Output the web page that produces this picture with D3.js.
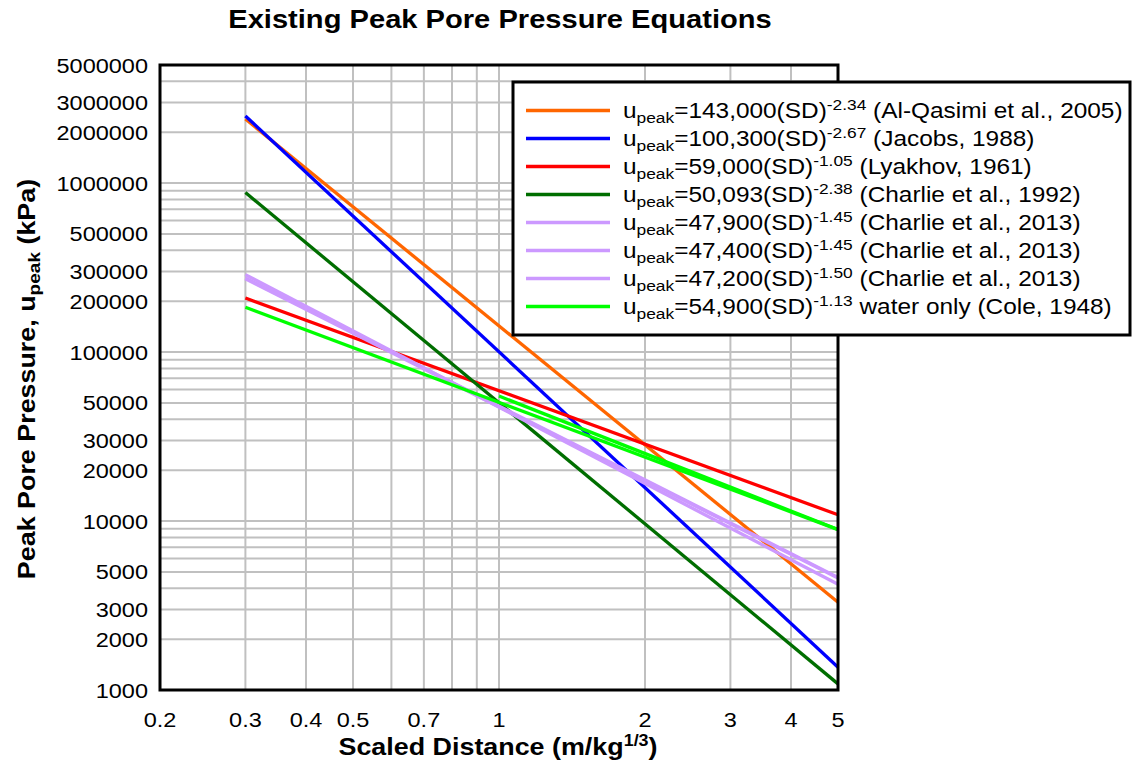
<!doctype html>
<html lang="en">
<head>
<meta charset="utf-8">
<title>Existing Peak Pore Pressure Equations</title>
<script src="https://cdn.jsdelivr.net/npm/d3@7"></script>
<style>
  body { margin: 0; background: #fff; }
  text { font-family: "Liberation Sans", Arial, sans-serif; fill: #000; }
</style>
</head>
<body>
<svg id="chart" width="1136" height="767"></svg>
<script>
// series, in legend order; the last one is the unlabelled lime trace
var coefs = ["143,000", "100,300", "59,000", "50,093", "47,900", "47,400", "47,200", "54,900", null];
var expos = ["-2.34", "-2.67", "-1.05", "-2.38", "-1.45", "-1.45", "-1.50", "-1.13", null];
var sources = [" (Al-Qasimi et al., 2005)", " (Jacobs, 1988)", " (Lyakhov, 1961)", " (Charlie et al., 1992)",
  " (Charlie et al., 2013)", " (Charlie et al., 2013)", " (Charlie et al., 2013)", " water only (Cole, 1948)", null];
var colors = ["#ff6600", "#0000ff", "#ff0000", "#006e00", "#cc99ff", "#cc99ff", "#cc99ff", "#00ff00", "#00ff00"];
// end points of each line (scaled distance, peak pressure in kPa)
var sdStart = [0.3, 0.3, 0.3, 0.3, 0.3, 0.3, 0.3, 1, 0.3];
var uStart = [2392600, 2496800, 208870, 879500, 274500, 271640, 287270, 54900, 184000];
var sdEnd = [5, 5, 5, 5, 5, 5, 5, 5, 5];
var uEnd = [3309, 1365, 10887, 1087, 4642, 4594, 4222, 8907, 8900];

var xTickVals = [0.2, 0.3, 0.4, 0.5, 0.7, 1, 2, 3, 4, 5];
var yTickVals = [1000, 2000, 3000, 5000, 10000, 20000, 30000, 50000, 100000, 200000, 300000, 500000,
  1000000, 2000000, 3000000, 5000000];

var svg = d3.select("#chart");
var x = d3.scaleLog().domain([0.2, 5]).range([160, 838]);
var y = d3.scaleLog().domain([1000, 5000000]).range([690, 65]);
var SX = 1.12; // glyphs in the reference are a bit wider than Liberation Sans

function label(sel, tx, ty, size, weight, anchor, rot) {
  return sel.append("text")
    .attr("transform", "translate(" + tx + "," + ty + ")" + (rot ? " rotate(" + rot + ")" : "") + " scale(" + SX + ",1)")
    .attr("font-size", size).attr("font-weight", weight || "normal")
    .attr("text-anchor", anchor || "start");
}

// grid
var grid = svg.append("g").attr("stroke", "#c0c0c0").attr("stroke-width", 2);
grid.selectAll(".gx").data(x.ticks().filter(function (d) { return d > 0.2 && d < 5; }))
  .enter().append("line")
  .attr("x1", function (d) { return x(d); }).attr("x2", function (d) { return x(d); })
  .attr("y1", y(1000)).attr("y2", y(5000000));
grid.selectAll(".gy").data(y.ticks().filter(function (d) { return d > 1000 && d < 5000000; }))
  .enter().append("line")
  .attr("y1", function (d) { return y(d); }).attr("y2", function (d) { return y(d); })
  .attr("x1", x(0.2)).attr("x2", x(5));

// equation lines
var idx = d3.range(coefs.length);
var line = d3.line().x(function (d) { return x(d[0]); }).y(function (d) { return y(d[1]); });
svg.append("g").attr("fill", "none").attr("stroke-width", 3.3)
  .selectAll("path").data(idx).enter().append("path")
  .attr("stroke", function (i) { return colors[i]; })
  .attr("d", function (i) { return line([[sdStart[i], uStart[i]], [sdEnd[i], uEnd[i]]]); });

// frame
svg.append("rect").attr("x", x(0.2)).attr("y", y(5000000))
  .attr("width", x(5) - x(0.2)).attr("height", y(1000) - y(5000000))
  .attr("fill", "none").attr("stroke", "#000").attr("stroke-width", 3);

// tick labels
xTickVals.forEach(function (v) { label(svg, x(v), 727, 21, "normal", "middle").text(v); });
yTickVals.forEach(function (v) { label(svg, 148, y(v) + 7.5, 21, "normal", "end").text(v); });

// titles
label(svg, 500, 28, 26, "bold", "middle").text("Existing Peak Pore Pressure Equations");
var xt = label(svg, 498, 755, 24, "bold", "middle");
xt.append("tspan").text("Scaled Distance (m/kg");
xt.append("tspan").attr("font-size", 16).attr("dy", -9).text("1/3");
xt.append("tspan").attr("dy", 9).text(")");
var yt = label(svg, 35, 379, 24, "bold", "middle", -90);
yt.append("tspan").text("Peak Pore Pressure, u");
yt.append("tspan").attr("font-size", 17).attr("dy", 5).text("peak");
yt.append("tspan").attr("dy", -5).text(" (kPa)");

// legend
var leg = svg.append("g");
leg.append("rect").attr("x", 513).attr("y", 82).attr("width", 617).attr("height", 253)
  .attr("fill", "#fff").attr("stroke", "#000").attr("stroke-width", 3);
idx.filter(function (i) { return coefs[i] !== null; }).forEach(function (i) {
  var cy = 110.5 + i * 28;
  leg.append("line").attr("x1", 526).attr("x2", 610).attr("y1", cy).attr("y2", cy)
    .attr("stroke", colors[i]).attr("stroke-width", 3.3);
  var t = label(leg, 623, cy + 7.5, 21.8, "normal", "start");
  t.append("tspan").text("u");
  t.append("tspan").attr("font-size", 15.5).attr("dy", 5).text("peak");
  t.append("tspan").attr("dy", -5).text("=" + coefs[i] + "(SD)");
  t.append("tspan").attr("font-size", 15.5).attr("dy", -8).text(expos[i]);
  t.append("tspan").attr("dy", 8).text(sources[i]);
});
</script>
</body>
</html>
